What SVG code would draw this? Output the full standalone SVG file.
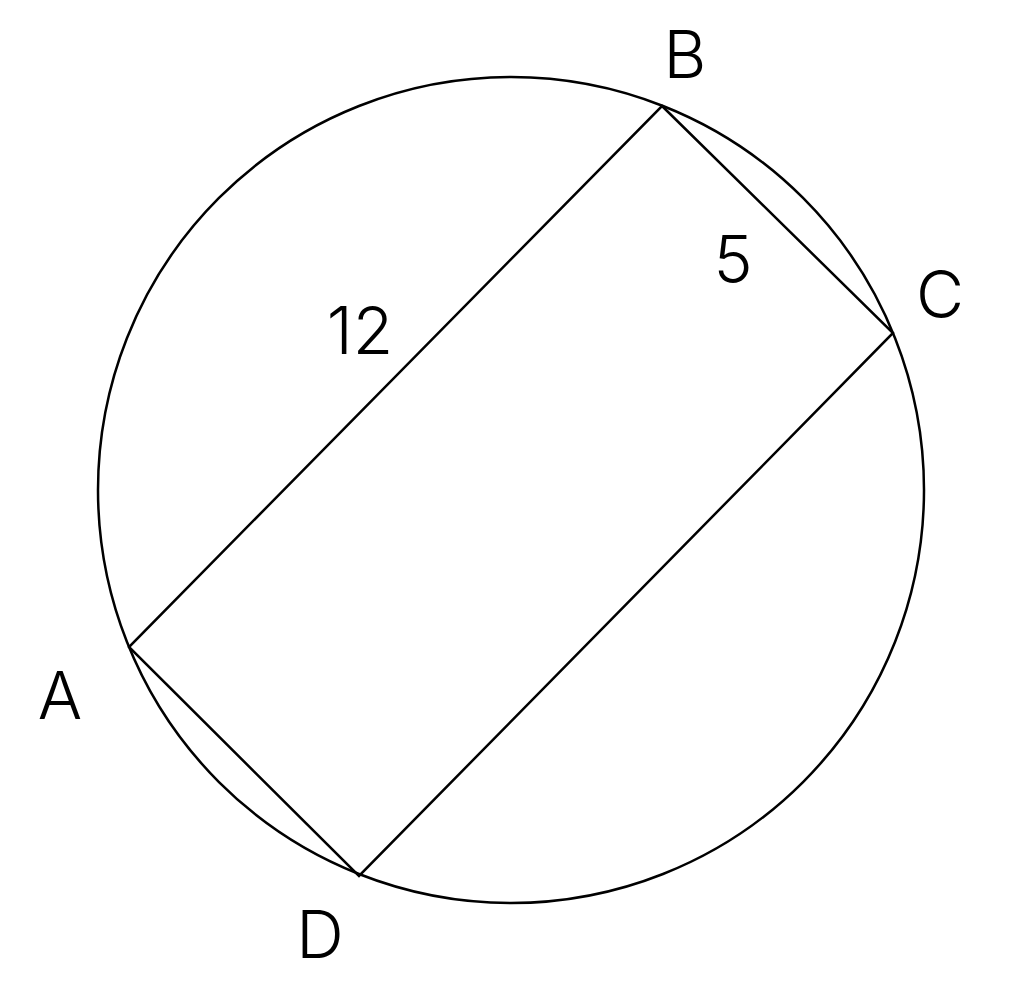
<svg xmlns="http://www.w3.org/2000/svg" width="1024" height="985" viewBox="0 0 1024 985">
<style>
.ln{fill:none;stroke:#000;stroke-width:2.5}
.lb{font-family:Inter,"Noto Sans","Liberation Sans",sans-serif;font-weight:300;font-size:66px;fill:#000;text-anchor:middle}
</style>
<rect width="1024" height="985" fill="#fff"/>
<g id="circle"><circle class="ln" cx="511" cy="490" r="413"/></g>
<g id="connectors">
<polygon class="ln" points="662,106 893,333 359,876 129,647"/>
</g>
<g id="nodeB"><text class="lb" x="685" y="78">B</text></g>
<g id="nodeC"><text class="lb" x="940" y="318">C</text></g>
<g id="nodeA"><text class="lb" x="60" y="719">A</text></g>
<g id="nodeD"><text class="lb" x="320" y="958">D</text></g>
<g id="label12"><text class="lb" x="360" y="354">12</text></g>
<g id="label5"><text class="lb" x="733" y="283">5</text></g>
</svg>
